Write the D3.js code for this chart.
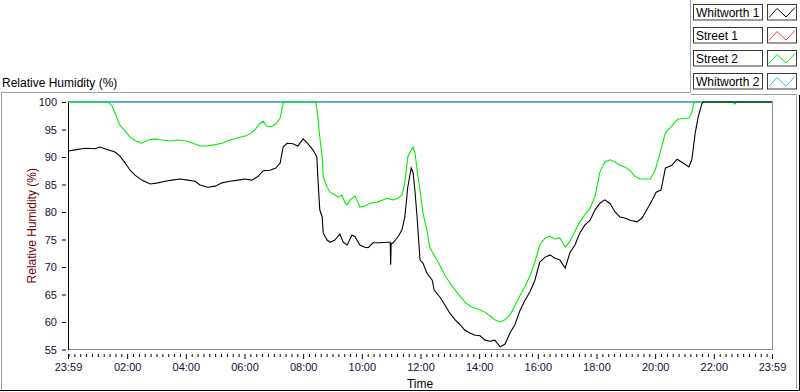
<!DOCTYPE html>
<html>
<head>
<meta charset="utf-8">
<script src="https://cdn.jsdelivr.net/npm/d3@7"></script>
<style>
  html, body { margin: 0; padding: 0; background: #ffffff; }
  svg { display: block; }
  text { font-family: "Liberation Sans", Arial, sans-serif; }
</style>
</head>
<body>
<svg id="chart" width="800" height="392"></svg>
<script>
// ---------- DATA (minutes after the 23:59 start, values in % RH) ----------
const seriesNames = ["Whitworth 1", "Street 1", "Street 2", "Whitworth 2"];
const seriesColors = ["#000000", "#ff3b3b", "#00ee00", "#33bbff"];

const xTickMinutes = [0, 121, 241, 361, 481, 601, 721, 841, 961, 1081, 1201, 1321, 1440];
const xTickLabels = ["23:59", "02:00", "04:00", "06:00", "08:00", "10:00", "12:00",
                     "14:00", "16:00", "18:00", "20:00", "22:00", "23:59"];
const yTickValues = [55, 60, 65, 70, 75, 80, 85, 90, 95, 100];

const whitworth1Minutes = [0, 14, 35, 55, 65, 82, 96, 106, 117, 127, 137, 151, 168, 184, 198, 213, 229, 245, 260, 270,
  286, 301, 315, 331, 348, 362, 376, 389, 399, 413, 425, 434, 440, 448, 460, 470, 481, 491, 501, 509,
  511, 515, 520, 522, 530, 536, 546, 556, 563, 571, 581, 587, 597, 607, 614, 624, 638, 653, 659, 660,
  661, 665, 675, 683, 689, 695, 702, 706, 710, 714, 720, 726, 734, 745, 749, 761, 771, 781, 792, 802,
  812, 822, 833, 843, 853, 863, 873, 884, 894, 904, 914, 925, 935, 945, 955, 965, 976, 986, 996, 1006,
  1017, 1027, 1037, 1047, 1057, 1068, 1078, 1088, 1098, 1109, 1119, 1129, 1139, 1150, 1164, 1174, 1184, 1195, 1203, 1213,
  1222, 1227, 1235, 1246, 1258, 1270, 1276, 1283, 1289, 1297, 1301, 1440];
const whitworth1Values = [91.1, 91.3, 91.6, 91.5, 91.8, 91.3, 90.9, 90.2, 88.9, 87.6, 86.7, 85.8, 85.1, 85.3, 85.6, 85.8, 86.0, 85.8, 85.6, 84.9,
  84.5, 84.7, 85.3, 85.6, 85.8, 86.0, 85.8, 86.5, 87.5, 87.6, 88.0, 88.9, 91.8, 92.5, 92.4, 92.0, 93.3, 92.4, 91.3, 90.0,
  86.4, 80.4, 79.1, 76.2, 74.9, 74.5, 74.9, 76.0, 74.5, 74.0, 75.8, 75.5, 74.0, 73.6, 73.5, 74.4, 74.4, 74.5, 74.5, 70.4,
  74.2, 74.4, 75.5, 76.7, 79.1, 84.5, 88.0, 87.1, 83.5, 79.1, 71.3, 70.7, 68.9, 67.6, 65.8, 64.5, 63.1, 61.6, 60.4, 59.5,
  58.5, 58.0, 57.6, 57.5, 56.7, 56.5, 56.7, 55.5, 56.0, 58.0, 59.5, 62.2, 64.0, 65.5, 67.6, 70.9, 71.8, 72.2, 71.6, 71.3,
  69.8, 72.7, 74.0, 76.2, 77.6, 78.5, 80.4, 81.6, 82.2, 81.5, 80.0, 79.1, 78.9, 78.5, 78.2, 78.9, 80.4, 82.2, 83.6, 84.0,
  88.0, 88.2, 88.5, 89.6, 88.9, 88.2, 89.5, 94.4, 97.3, 99.8, 100, 100];

const street1Minutes = [0, 1440];
const street1Values = [100, 100];

const street2Minutes = [0, 82, 90, 98, 106, 117, 127, 139, 151, 164, 178, 192, 209, 225, 241, 256, 270, 284, 299, 315,
  331, 348, 362, 372, 382, 391, 399, 407, 415, 425, 434, 440, 444, 507, 511, 515, 520, 522, 530, 536,
  546, 552, 560, 567, 571, 577, 587, 593, 597, 607, 618, 632, 644, 652, 665, 675, 683, 689, 695, 700,
  706, 710, 714, 720, 726, 734, 740, 751, 757, 771, 781, 792, 802, 812, 822, 833, 843, 853, 863, 873,
  884, 894, 904, 914, 925, 935, 945, 955, 965, 976, 986, 996, 1006, 1017, 1027, 1037, 1047, 1057, 1068, 1078,
  1088, 1098, 1109, 1119, 1129, 1139, 1150, 1160, 1170, 1191, 1201, 1211, 1222, 1232, 1242, 1248, 1270, 1276, 1280, 1287,
  1360, 1364, 1368, 1440];
const street2Values = [100, 100, 99.3, 97.6, 95.8, 94.7, 93.6, 92.9, 92.5, 93.1, 93.3, 93.1, 92.9, 93.1, 92.9, 92.5, 92.0, 92.0, 92.2, 92.5,
  93.1, 93.5, 93.8, 94.2, 94.9, 96.0, 96.5, 95.6, 95.5, 96.0, 97.1, 99.8, 100, 100, 97.3, 93.6, 90.0, 86.4, 84.5, 83.6,
  83.1, 82.7, 83.1, 81.6, 81.3, 82.2, 82.9, 81.8, 80.9, 81.1, 81.6, 81.8, 82.2, 82.5, 82.2, 82.5, 83.1, 85.3, 90.0, 90.9,
  91.8, 90.7, 87.6, 84.0, 79.8, 76.7, 73.6, 71.8, 70.9, 68.5, 67.1, 65.8, 64.7, 63.6, 62.9, 62.5, 62.2, 61.8, 61.1, 60.4,
  60.0, 60.4, 61.3, 62.9, 64.9, 66.5, 68.4, 70.9, 74.0, 75.3, 75.6, 75.1, 75.3, 73.6, 74.7, 76.5, 78.2, 79.5, 80.7, 82.9,
  87.3, 89.1, 89.5, 89.1, 88.5, 88.2, 87.5, 86.5, 86.0, 86.0, 87.6, 90.7, 94.4, 95.3, 96.4, 96.9, 97.1, 98.0, 99.8, 100,
  100, 99.6, 100, 100];

const whitworth2Minutes = [0, 1440];
const whitworth2Values = [100, 100];

// ---------- LAYOUT ----------
const svg = d3.select("#chart");
const plot = { left: 68, right: 772, top: 102, bottom: 349.5 };

const x = d3.scaleLinear().domain([0, 1440]).range([plot.left, plot.right]);
const y = d3.scaleLinear().domain([55, 100]).range([plot.bottom, plot.top]);

// outer panel frame
const frame = svg.append("g").attr("fill", "none");
frame.append("path").attr("d", "M1.5,390 V92.5 H690.5 V0").attr("stroke", "#a0a0a0");
frame.append("path").attr("d", "M690.5,94.5 H796.5 V389").attr("stroke", "#a0a0a0");
frame.append("path").attr("d", "M0,390.5 H799.5 V95").attr("stroke", "#000000");

// title
svg.append("text").attr("x", 2).attr("y", 87).attr("font-size", 12).attr("fill", "#000")
  .text("Relative Humidity (%)");

// plot background & border
svg.append("rect")
  .attr("x", plot.left + 0.5).attr("y", plot.top - 0.5)
  .attr("width", plot.right - plot.left).attr("height", plot.bottom - plot.top + 0.5)
  .attr("fill", "#ffffff").attr("stroke", "#8c8c8c");

// clip
svg.append("clipPath").attr("id", "clip").append("rect")
  .attr("x", plot.left).attr("y", plot.top - 2)
  .attr("width", plot.right - plot.left + 1).attr("height", plot.bottom - plot.top + 3);

// y axis
const yAxis = d3.axisLeft(y).tickValues(yTickValues).tickSize(4).tickPadding(5);
const gy = svg.append("g").attr("transform", "translate(66,0)").call(yAxis);
gy.select(".domain").remove();
gy.selectAll("text").attr("font-size", 11).attr("fill", "#10103a").attr("font-family", "Liberation Sans, Arial, sans-serif");
gy.selectAll("line").attr("stroke", "#000");

// x axis minor ticks
const minorTicks = d3.range(1, 1440, 12).filter(m => !xTickMinutes.includes(m));
const xMinor = d3.axisBottom(x).tickValues(minorTicks).tickSize(3).tickFormat("");
const gxm = svg.append("g").attr("transform", "translate(0,354)").call(xMinor);
gxm.select(".domain").remove();
gxm.selectAll("line").attr("stroke", "#000");

// x axis major ticks
const xAxis = d3.axisBottom(x).tickValues(xTickMinutes)
  .tickFormat((d, i) => xTickLabels[i]).tickSize(5).tickPadding(4);
const gx = svg.append("g").attr("transform", "translate(0,354)").call(xAxis);
gx.select(".domain").remove();
gx.selectAll("text").attr("font-size", 11).attr("fill", "#10103a").attr("font-family", "Liberation Sans, Arial, sans-serif");
gx.selectAll("line").attr("stroke", "#000");

// y axis line (black)
svg.append("line").attr("x1", plot.left + 0.5).attr("x2", plot.left + 0.5)
  .attr("y1", plot.top - 1).attr("y2", plot.bottom + 0.5).attr("stroke", "#000");

// axis titles
svg.append("text")
  .attr("transform", `translate(36,${(plot.top + plot.bottom) / 2}) rotate(-90)`)
  .attr("text-anchor", "middle").attr("font-size", 12).attr("fill", "#700000")
  .text("Relative Humidity (%)");
svg.append("text").attr("x", (plot.left + plot.right) / 2).attr("y", 388)
  .attr("text-anchor", "middle").attr("font-size", 12).attr("fill", "#000")
  .text("Time");

// series
const line = d3.line().x(d => x(d[0])).y(d => y(d[1]));
const zipSeries = (ms, vs) => ms.map((m, i) => [m, vs[i]]);
const seriesData = [
  zipSeries(whitworth1Minutes, whitworth1Values),
  zipSeries(street1Minutes, street1Values),
  zipSeries(street2Minutes, street2Values),
  zipSeries(whitworth2Minutes, whitworth2Values)
];
const drawOrder = [1, 3, 2, 0];
const gLines = svg.append("g").attr("clip-path", "url(#clip)");
drawOrder.forEach(i => {
  gLines.append("path").datum(seriesData[i])
    .attr("fill", "none").attr("stroke", seriesColors[i])
    .attr("stroke-width", i === 3 ? 1.6 : 1.1)
    .attr("stroke-linejoin", "miter")
    .attr("d", line);
});

// legend
const legend = svg.append("g");
seriesNames.forEach((name, i) => {
  const ty = 4 + i * 23;
  legend.append("rect").attr("x", 693.5).attr("y", ty + 0.5).attr("width", 69).attr("height", 15.5)
    .attr("fill", "#fff").attr("stroke", "#3a3a3a");
  legend.append("text").attr("x", 696).attr("y", ty + 12.5).attr("font-size", 12).attr("fill", "#000")
    .text(name);
  legend.append("rect").attr("x", 767.5).attr("y", ty + 0.5).attr("width", 29).attr("height", 15.5)
    .attr("fill", "#fff").attr("stroke", "#3a3a3a");
  legend.append("path")
    .attr("d", `M${769},${ty + 13.5} L${777},${ty + 4.5} L${786},${ty + 13} L${795},${ty + 3.5}`)
    .attr("fill", "none").attr("stroke", seriesColors[i]).attr("stroke-width", 1);
});
</script>
</body>
</html>
